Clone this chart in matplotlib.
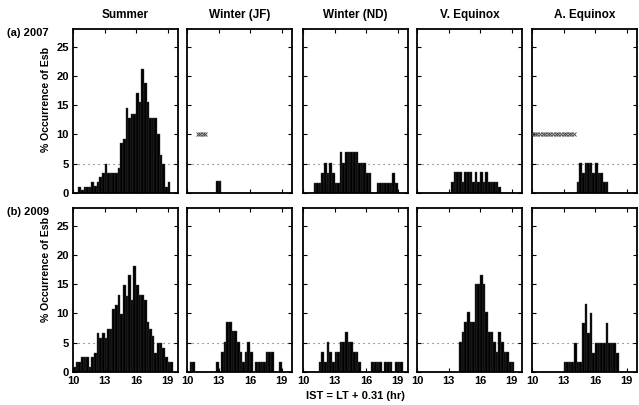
import numpy as np
import matplotlib
matplotlib.use("Agg")
import matplotlib.pyplot as plt

plt.rcParams['font.family'] = ['Liberation Sans', 'DejaVu Sans']
plt.rcParams['font.weight'] = 'bold'

# 15-minute IST bins starting at 10:00 (40 bins up to 20:00)
BIN0 = 10.0
BINW = 0.25

seasons = ['Summer', 'Winter (JF)', 'Winter (ND)', 'V. Equinox', 'A. Equinox']
row_labels = ['(a) 2007', '(b) 2009']
x_ticks = [10, 13, 16, 19]
y_ticks = [0, 5, 10, 15, 20, 25]


def bins(nonzero):
    """Expand {bin index: % occurrence} into a 40-bin list."""
    out = [0.0] * 40
    for k, v in nonzero.items():
        out[k] = v
    return out


# ---- 2007 ----
summer_2007 = [0, 0, 1.0, 0.5, 1.0, 1.0, 1.0, 1.8, 1.2, 1.8,
               2.7, 3.5, 5.0, 3.5, 3.5, 3.5, 3.5, 4.2, 8.5, 9.3,
               14.5, 12.8, 13.5, 13.5, 17.0, 15.5, 21.2, 18.7, 15.5, 12.8,
               12.8, 12.8, 10.0, 6.5, 5.0, 1.0, 1.8, 0, 0, 0]
winter_jf_2007 = bins({11: 2.1, 12: 2.1})
winter_nd_2007 = bins({4: 1.75, 5: 1.75, 6: 1.75, 7: 3.5, 8: 5.2, 9: 3.5, 10: 5.2,
                       11: 3.5, 12: 1.75, 13: 1.75, 14: 7.0, 15: 5.2, 16: 7.0, 17: 7.0,
                       18: 7.0, 19: 7.0, 20: 7.0, 21: 5.2, 22: 5.2, 23: 5.2, 24: 3.5,
                       25: 3.5, 28: 1.75, 29: 1.75, 30: 1.75, 31: 1.75, 32: 1.75,
                       33: 1.75, 34: 3.5, 35: 1.75})
v_equinox_2007 = bins({13: 1.8, 14: 3.6, 15: 3.6, 16: 3.6, 17: 1.8, 18: 3.6, 19: 3.6,
                       20: 3.6, 21: 1.8, 22: 3.6, 23: 1.8, 24: 3.6, 25: 1.8, 26: 3.6,
                       27: 1.8, 28: 1.8, 29: 1.8, 30: 1.8, 31: 1.0})
a_equinox_2007 = bins({17: 1.8, 18: 5.2, 19: 3.5, 20: 5.2, 21: 5.2, 22: 5.2, 23: 3.5,
                       24: 5.2, 25: 3.5, 26: 3.5, 27: 1.8, 28: 1.8})

# ---- 2009 ----
summer_2009 = [0.8, 1.7, 1.7, 2.5, 2.5, 2.5, 0.8, 2.5, 3.3, 6.6,
               5.8, 6.6, 5.8, 7.4, 7.4, 10.7, 11.5, 13.2, 9.9, 14.8,
               13.0, 16.5, 12.3, 18.1, 14.8, 13.2, 13.2, 12.3, 8.5, 7.4,
               6.2, 3.3, 5.0, 5.0, 4.1, 2.5, 1.7, 1.7, 0, 0]
winter_jf_2009 = bins({1: 1.7, 2: 1.7, 11: 1.7, 13: 3.5, 14: 5.2, 15: 8.5, 16: 8.5,
                       17: 7.0, 18: 7.0, 19: 5.2, 20: 3.5, 21: 1.7, 22: 3.5, 23: 5.2,
                       24: 3.5, 26: 1.7, 27: 1.7, 28: 1.7, 29: 1.7, 30: 3.5, 31: 3.5,
                       32: 3.5, 35: 1.7})
winter_nd_2009 = bins({6: 1.7, 7: 3.5, 8: 1.7, 9: 5.2, 10: 3.5, 11: 1.7, 12: 3.5,
                       13: 3.5, 14: 5.2, 15: 5.2, 16: 6.9, 17: 5.2, 18: 5.2, 19: 3.5,
                       20: 3.5, 21: 1.7, 26: 1.7, 27: 1.7, 28: 1.7, 29: 1.7, 31: 1.7,
                       32: 1.7, 33: 1.7, 35: 1.7, 36: 1.7, 37: 1.7})
v_equinox_2009 = bins({16: 5.2, 17: 6.9, 18: 8.6, 19: 10.3, 20: 8.6, 21: 8.6, 22: 15.0,
                       23: 15.0, 24: 16.6, 25: 15.0, 26: 10.3, 27: 6.9, 28: 6.9, 29: 5.2,
                       30: 3.5, 31: 6.9, 32: 5.2, 33: 3.5, 34: 3.5, 35: 1.7, 36: 1.7})
a_equinox_2009 = bins({12: 1.7, 13: 1.7, 14: 1.7, 15: 1.7, 16: 5.0, 17: 1.7, 18: 1.7,
                       19: 8.3, 20: 11.6, 21: 6.6, 22: 10.0, 23: 3.3, 24: 5.0, 25: 5.0,
                       26: 5.0, 27: 5.0, 28: 8.3, 29: 5.0, 30: 5.0, 31: 5.0, 32: 3.3})

# hours flagged with crosses at the 10 % level
flag_hours_jf_2007 = [11.0, 11.25, 11.5, 11.75]
flag_hours_ae_2007 = [10.0, 10.25, 10.5, 10.75, 11.0, 11.25, 11.5, 11.75, 12.0,
                      12.25, 12.5, 12.75, 13.0, 13.25, 13.5, 13.75, 14.0]
flag_level = 10

data = [[summer_2007, winter_jf_2007, winter_nd_2007, v_equinox_2007, a_equinox_2007],
        [summer_2009, winter_jf_2009, winter_nd_2009, v_equinox_2009, a_equinox_2009]]
flags = {(0, 1): flag_hours_jf_2007, (0, 4): flag_hours_ae_2007}

W, H = 639, 405
fig = plt.figure(figsize=(W / 100, H / 100), dpi=100)

lefts = [73, 187, 303, 417, 532]
tops = [29, 208]
aw, ah = 105, 164

for r in range(2):
    for c in range(5):
        ax = fig.add_axes([lefts[c] / W, 1 - (tops[r] + ah) / H, aw / W, ah / H])
        vals = data[r][c]
        starts = BIN0 + BINW * np.arange(len(vals))
        ax.axhline(5, color='0.35', ls=(0, (1, 3.5)), lw=0.8, zorder=1)
        ax.bar(starts, vals, width=BINW, align='edge', color='black',
               edgecolor='0.25', linewidth=0.3, zorder=2)
        if (r, c) in flags:
            fx = flags[(r, c)]
            ax.plot(fx, [flag_level] * len(fx), ls='none', marker='x', ms=3,
                    mew=0.7, color='0.3', zorder=3)
        ax.set_xlim(10, 20)
        ax.set_ylim(0, 28)
        ax.set_xticks(x_ticks)
        ax.set_yticks(y_ticks)
        ax.tick_params(direction='in', top=True, right=True, length=3, width=0.8,
                       labelsize=8, pad=3)
        for s in ax.spines.values():
            s.set_linewidth(1.3)
        if c != 0:
            ax.set_yticklabels([])
        if r != 1:
            ax.set_xticklabels([])
        if r == 0:
            ax.set_title(seasons[c], fontsize=8.5, fontweight='bold', pad=8)

row_label_y = [33, 212]
for r in range(2):
    fig.text(7 / W, 1 - row_label_y[r] / H, row_labels[r], fontsize=8,
             fontweight='bold', ha='left', va='center')
ylab_centers = [99, 270]
for yc in ylab_centers:
    fig.text(46 / W, 1 - yc / H, '% Occurrence of Esb', fontsize=7.6,
             fontweight='bold', rotation=90, ha='center', va='center')

fig.text(355 / W, 1 - 396 / H, 'IST = LT + 0.31 (hr)', fontsize=8,
         fontweight='bold', ha='center', va='center')

fig.savefig('out.png', dpi=100)
